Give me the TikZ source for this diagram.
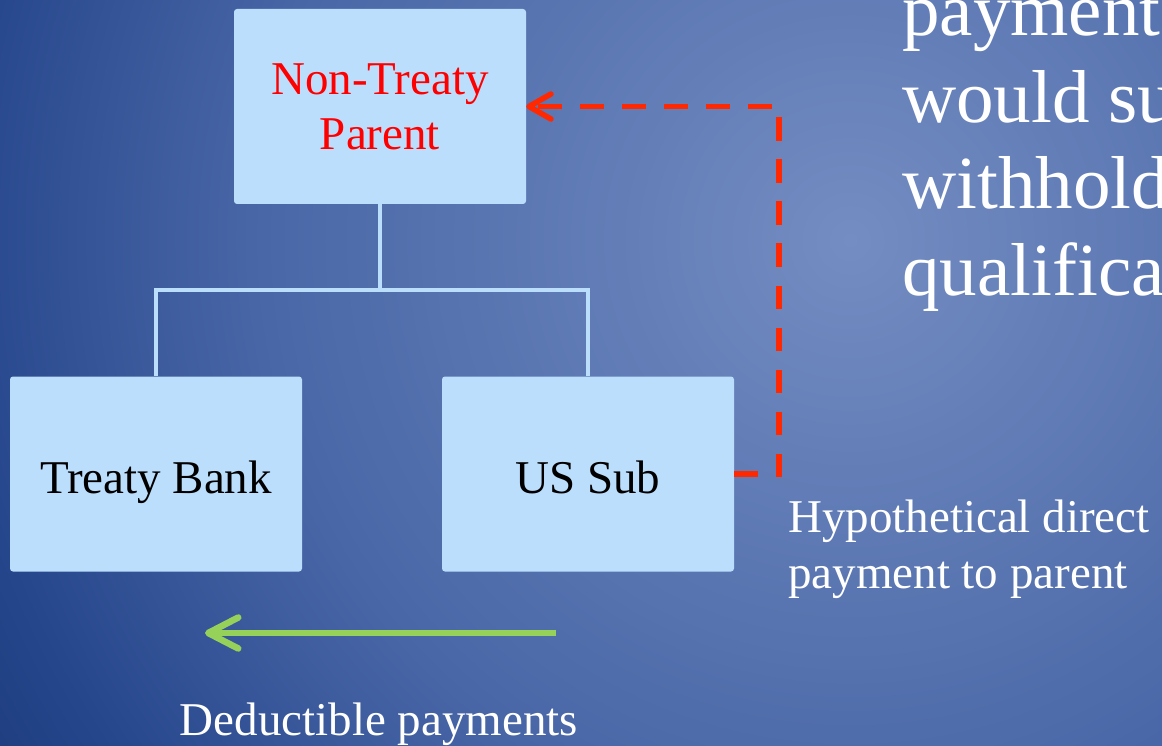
\documentclass[tikz,border=0pt]{standalone}
\usepackage{fontspec}
\setmainfont{Liberation Serif}
\usetikzlibrary{arrows.meta}

\definecolor{bgin}{RGB}{116,141,194}
\definecolor{bgmid}{RGB}{72,102,166}
\definecolor{bgdark}{RGB}{38,70,140}
\definecolor{bgedge}{RGB}{30,62,128}
\definecolor{boxblue}{RGB}{187,222,252}
\definecolor{hypred}{RGB}{255,40,0}
\definecolor{dedgreen}{RGB}{150,210,90}

% radial fill: the path's bounding box covers the inner 50bp of the shading
\pgfdeclareradialshading{slidebg}{\pgfpoint{0bp}{0bp}}{%
  color(0bp)=(bgin); color(15bp)=(bgmid); color(22.5bp)=(bgdark);
  color(25bp)=(bgedge); color(50bp)=(bgedge)}

\begin{document}
\begin{tikzpicture}[x=1pt,y=-1pt,
  entity/.style={fill=boxblue, rounded corners=3pt, inner sep=0pt,
    minimum width=292pt, minimum height=195pt, align=center,
    font=\fontsize{47}{55}\selectfont},
  oneline/.style={text height=45pt, text depth=7pt},
  tree/.style={draw=boxblue, line width=4pt},
  hyp/.style={draw=hypred, line width=5.5pt, dash pattern=on 23.5pt off 18.5pt,
    -{Straight Barb[length=22pt,width=25pt,round]}},
  deduct/.style={draw=dedgreen, line width=6.5pt,
    -{Straight Barb[length=30pt,width=31pt,round]}},
  lbl/.style={text=white, inner sep=0pt, font=\fontsize{47}{56.5}\selectfont},
  bigtxt/.style={text=white, inner sep=0pt, font=\fontsize{75}{86.6}\selectfont}]

\useasboundingbox (0,0) rectangle (1162,746);
\clip (0,0) rectangle (1162,746);

% slide background
\shade[shading=slidebg] (-150,-760) rectangle (1850,1240);

% entities
\node[entity, text=red] (parent) at (380,106.5) {Non-Treaty\\Parent};
\node[entity, oneline] (bank) at (156,474) {Treaty Bank};
\node[entity, oneline] (sub) at (588,474) {US Sub};

% ownership tree
\draw[tree] (parent.south) -- ++(0,86) coordinate (fork) -| (bank.north);
\draw[tree] (fork) -| (sub.north);

% hypothetical direct payment
\draw[hyp] (sub.east) -- ++(45,0) coordinate (bend) |- (parent.east);

% deductible payments
\coordinate (dstart) at (556,633);
\coordinate (dend) at (205,633);
\draw[deduct] (dstart) -- (dend);

% labels
\node[lbl, anchor=base] (dedlbl) at (379,735) {Deductible payments};
\node[lbl, anchor=base west] (hyplbl) at (788,532)
  {\begin{tabular}[t]{@{}l@{}}Hypothetical direct\\payment to parent\end{tabular}};

% side note text
\node[bigtxt, anchor=base west] (note) at (902,35.5)
  {\begin{tabular}[t]{@{}l@{}}payments\\would su\\withhold\\qualifica\end{tabular}};
\end{tikzpicture}
\end{document}
